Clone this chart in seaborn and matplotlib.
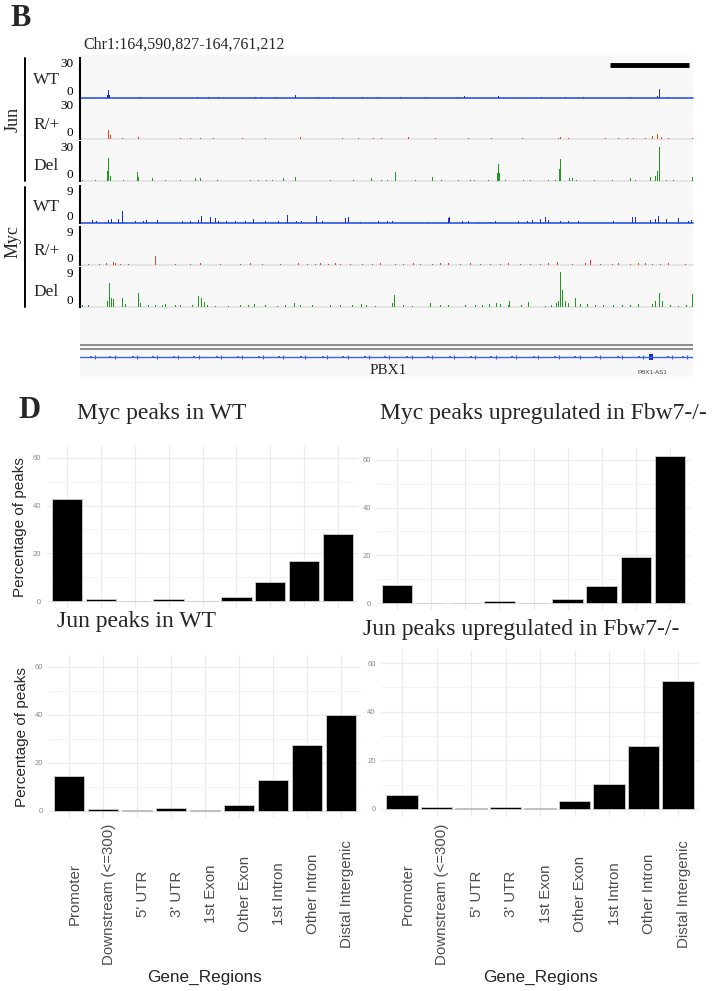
import matplotlib
matplotlib.use("Agg")
import matplotlib.pyplot as plt
import matplotlib.transforms as mtransforms
import seaborn as sns
import pandas as pd
import numpy as np

# ---------------- panel B: browser tracks (coverage in ~278 bp bins) ----------------
REGION_START = 164590827
REGION_END = 164761212
N_BINS = 613
BIN_BP = (REGION_END - REGION_START) / N_BINS

jun_wt_bins = [27, 28, 29, 60, 117, 128, 138, 175, 181, 196, 215, 238, 253, 282, 297, 320, 345,
               377, 384, 418, 461, 485, 503, 550, 577, 579, 587]
jun_wt_h = [2.5, 6, 2, 1, 1, 1, 1, 1, 1, 1, 2, 1, 1, 1, 1, 1, 1,
            1, 1.5, 1.5, 1, 1, 1, 1, 1.5, 7, 1]

jun_rp_bins = [28, 30, 42, 58, 100, 110, 120, 133, 162, 185, 220, 262, 278, 293, 301, 328, 355,
               388, 411, 442, 478, 480, 488, 525, 538, 547, 553, 565, 572, 577, 581, 588, 612]
jun_rp_h = [7, 3, 1, 1.5, 1, 1, 1, 1, 1, 1, 1.5, 1, 1, 1, 1, 1.5, 1,
            1, 1, 1, 1, 1.5, 1, 1, 1, 1, 1, 1, 2.5, 4, 1.5, 1, 1]

jun_del_bins = [2, 15, 27, 28, 30, 43, 57, 58, 72, 85, 100, 115, 120, 137, 170, 178, 186, 192, 203,
                215, 250, 273, 291, 301, 307, 315, 335, 352, 361, 378, 390, 394, 408, 417, 418,
                419, 425, 443, 450, 468, 475, 479, 480, 489, 492, 496, 514, 532, 550, 555, 570,
                575, 577, 579, 586, 593, 612]
jun_del_h = [1, 1, 8, 18, 4, 1, 7, 3, 2, 1, 1, 2, 2.5, 1, 1, 1, 1, 1, 2,
             3, 1, 1, 2, 1, 1, 7, 1, 3, 1, 1, 1, 1, 1, 6, 13,
             6, 1, 1, 1, 1, 1, 9, 17, 2, 2, 1, 1, 1, 2.5, 1, 3,
             4, 8, 26, 1, 1, 3]

myc_wt_bins = [12, 16, 28, 31, 38, 42, 55, 63, 66, 77, 102, 110, 118, 121, 130, 135, 138, 146, 155,
               165, 173, 185, 198, 207, 216, 221, 236, 242, 265, 268, 280, 298, 307, 312, 348, 368,
               369, 382, 388, 398, 410, 415, 438, 447, 452, 460, 465, 468, 480, 488, 498, 533, 552,
               555, 570, 575, 578, 586, 598, 608, 611]
myc_wt_h = [0.8, 0.5, 0.8, 1.0, 1.0, 2.8, 0.5, 0.5, 0.8, 0.8, 0.5, 0.5, 0.8, 1.7, 1.5, 1.2, 0.6, 0.5, 0.5,
            0.5, 0.9, 0.5, 0.5, 2.0, 0.5, 0.6, 1.8, 0.6, 1.1, 1.4, 0.3, 0.5, 0.6, 0.4, 0.3, 1.2,
            1.5, 0.5, 0.4, 0.3, 0.3, 0.4, 0.5, 0.5, 0.8, 0.9, 1.5, 0.7, 0.6, 0.6, 0.4, 0.6, 1.5,
            1.5, 0.7, 1.0, 1.6, 1.0, 1.1, 0.5, 0.8]

myc_rp_bins = [8, 19, 26, 33, 35, 40, 48, 75, 95, 110, 120, 140, 160, 170, 182, 200, 218, 227, 235,
               240, 248, 255, 260, 270, 282, 292, 300, 315, 323, 333, 340, 352, 360, 368, 380, 390,
               400, 410, 420, 428, 440, 450, 460, 468, 477, 492, 505, 510, 520, 532, 538, 550, 558,
               565, 572, 580, 588, 605]
myc_rp_h = [0.3, 0.3, 0.5, 0.6, 0.5, 0.3, 0.3, 2.1, 0.3, 0.3, 0.4, 0.3, 0.3, 0.4, 0.3, 0.3, 0.4, 0.3, 0.3,
            0.5, 0.3, 0.4, 0.3, 0.3, 0.3, 0.3, 0.4, 0.3, 0.3, 0.5, 0.3, 0.3, 0.4, 0.4, 0.3, 0.4,
            0.3, 0.3, 0.3, 0.4, 0.3, 0.3, 0.3, 0.4, 0.7, 0.3, 0.5, 1.2, 0.3, 0.3, 0.4, 0.3, 0.5,
            0.4, 0.3, 0.3, 0.4, 0.3]

myc_del_bins = [2, 8, 27, 29, 31, 33, 42, 45, 58, 60, 68, 75, 82, 85, 95, 100, 112, 118, 121, 124,
                127, 135, 148, 160, 168, 174, 185, 197, 205, 214, 220, 232, 250, 260, 272, 281, 286,
                295, 312, 314, 323, 332, 350, 360, 368, 385, 395, 402, 409, 416, 420, 428, 429, 441,
                448, 465, 471, 476, 478, 480, 482, 485, 488, 495, 500, 507, 515, 523, 533, 542, 550,
                558, 572, 575, 579, 582, 590, 598, 606, 612]
myc_del_h = [0.4, 0.4, 1.5, 5.6, 2.0, 1.8, 2.0, 0.6, 3.2, 1.0, 0.5, 0.4, 0.5, 0.7, 0.5, 0.4, 0.5, 2.5, 2.0, 1.2,
             0.5, 0.3, 0.3, 0.5, 0.5, 0.8, 0.4, 0.3, 0.5, 0.9, 0.4, 0.5, 0.4, 0.4, 0.5, 0.6, 0.4,
             0.3, 1.0, 2.7, 0.4, 0.3, 1.0, 0.4, 0.5, 0.4, 0.5, 0.5, 0.6, 1.0, 0.8, 0.4, 1.3, 0.5,
             1.2, 0.3, 0.5, 1.0, 1.5, 8.0, 4.0, 1.5, 1.0, 2.0, 0.8, 0.6, 0.4, 0.5, 0.5, 0.4, 0.5,
             0.6, 0.8, 1.3, 3.2, 1.3, 0.5, 0.3, 0.4, 3.0]

pbx1_arrow_bins = [10, 30, 52, 72, 93, 114, 136, 157, 178, 199, 220, 242, 263, 284, 304, 327, 348,
                   369, 390, 411, 432, 453, 474, 495, 516, 537, 558, 587, 602]
pbx1_exon_bins = [568, 572]
scale_bar_bins = [529, 608]

# ---------------- panel D: peak annotation ----------------
regions = ["Promoter", "Downstream (<=300)", "5' UTR", "3' UTR", "1st Exon",
           "Other Exon", "1st Intron", "Other Intron", "Distal Intergenic"]
myc_wt_pct = [42.8, 0.8, 0.2, 1.0, 0.2, 1.6, 7.8, 16.6, 28.0]
myc_up_pct = [7.5, 0.2, 0.2, 0.8, 0.2, 1.8, 7.3, 19.2, 61.6]
jun_wt_pct = [14.5, 0.8, 0.2, 1.4, 0.2, 2.4, 12.7, 27.5, 40.2]
jun_up_pct = [5.8, 0.7, 0.2, 0.7, 0.2, 3.4, 10.3, 25.9, 52.7]

SERIF = "Liberation Serif"
SANS = "Liberation Sans"
BLUE = "#1a2fc8"
BLUE_LINE = "#3a63e6"
RED = "#f0401e"
GREEN = "#1f9a1f"

sns.set_style("white")
plt.rcParams["font.family"] = [SANS, "DejaVu Sans"]

W, H = 715, 991
fig = plt.figure(figsize=(W / 100, H / 100), dpi=100)


def px_axes(x0, y0, x1, y1, **kw):
    return fig.add_axes([x0 / W, 1 - y1 / H, (x1 - x0) / W, (y1 - y0) / H], **kw)


def px_text(x, y, s, **kw):
    return fig.text(x / W, 1 - y / H, s, **kw)


def bin_to_bp(bins):
    return REGION_START + (np.asarray(bins) + 0.5) * BIN_BP


# browser background
bg = px_axes(80, 55, 693, 377)
bg.set_facecolor("#f8f8f8")
bg.set_xticks([])
bg.set_yticks([])
for s in bg.spines.values():
    s.set_visible(False)

px_text(10, 19, "B", fontsize=22, fontweight="bold", family=SERIF, va="center")
px_text(83, 45, "Chr1:164,590,827-164,761,212", fontsize=11.5, family=SERIF, va="center")

tracks = [
    ("WT", jun_wt_bins, jun_wt_h, 30, BLUE, BLUE_LINE, 58, 98, 80),
    ("R/+", jun_rp_bins, jun_rp_h, 30, RED, "#e2e2e2", 100, 139, 125),
    ("Del", jun_del_bins, jun_del_h, 30, GREEN, "#e2e2e2", 142, 181, 166),
    ("WT", myc_wt_bins, myc_wt_h, 9, BLUE, BLUE_LINE, 186, 223, 207),
    ("R/+", myc_rp_bins, myc_rp_h, 9, RED, "#e2e2e2", 227, 265, 251),
    ("Del", myc_del_bins, myc_del_h, 9, GREEN, "#e2e2e2", 268, 307, 292),
]

track_axes = []
for name, bins, hts, vmax, col, base_col, top, bot, label_y in tracks:
    ax = px_axes(80, top, 693, bot)
    ax.set_facecolor("none")
    ax.bar(bin_to_bp(bins), hts, width=BIN_BP * 1.8, color=col, linewidth=0)
    ax.axhline(0, color=base_col, lw=1.3, clip_on=False, zorder=0)
    ax.set_xlim(REGION_START, REGION_END)
    ax.set_ylim(0, vmax)
    ax.set_xticks([])
    ax.set_yticks([0, vmax])
    ax.set_yticklabels(["0", str(vmax)], family=SERIF, fontsize=9.5)
    labs = ax.get_yticklabels()
    labs[0].set_va("bottom")
    labs[1].set_va("top")
    ax.tick_params(axis="y", direction="out", length=4, width=1.4, pad=1, colors="black")
    for k in ["top", "right", "bottom"]:
        ax.spines[k].set_visible(False)
    ax.spines["left"].set_linewidth(1.5)
    ax.spines["left"].set_color("black")
    px_text(33, label_y, name, fontsize=12.5, family=SERIF, va="center")
    track_axes.append(ax)

# scale bar on the first track
track_axes[0].plot(bin_to_bp(scale_bar_bins), [24.8, 24.8], color="black", lw=3.5,
                   solid_capstyle="butt", clip_on=False)

# group labels and brackets
for label, y0, y1, yc in [("Jun", 58, 181, 119), ("Myc", 187, 307, 242)]:
    fig.add_artist(plt.Line2D([25 / W, 25 / W], [1 - y0 / H, 1 - y1 / H], color="black", lw=1.4))
    px_text(13, yc, label, fontsize=13, family=SERIF, rotation=90, ha="center", va="center")

# gene track
gax = px_axes(80, 340, 693, 377)
gax.set_facecolor("none")
gax.set_xlim(REGION_START, REGION_END)
gax.set_ylim(377, 340)
gax.axis("off")
gax.axhline(345, color="#8c8c8c", lw=1.4)
gax.axhline(348.5, color="#8c8c8c", lw=1.4)
gax.axhline(357, color=BLUE_LINE, lw=1.0)
gax.plot(bin_to_bp(pbx1_arrow_bins), [357] * len(pbx1_arrow_bins), ls="none", marker="s",
         ms=1.8, color=BLUE_LINE, mew=0)
gax.plot(bin_to_bp(pbx1_arrow_bins) + 4 * BIN_BP, [357] * len(pbx1_arrow_bins), ls="none",
         marker="|", ms=2.5, mew=0.8, color=BLUE_LINE)
ex = bin_to_bp(pbx1_exon_bins)
gax.fill_between(ex, 354, 360, color=BLUE, lw=0)
px_text(370, 370, "PBX1", fontsize=11, family=SERIF, va="center")
px_text(638, 372, "PBX1-AS1", fontsize=4.5, family=SANS, color="#444444", va="center")

# ---------------- panel D ----------------
px_text(18, 410, "D", fontsize=22, fontweight="bold", family=SERIF, va="center")

panels = [
    ("Myc peaks in WT", myc_wt_pct, (46.7, 446, 358.3, 608.4), (77, 413), False, True),
    ("Myc peaks upregulated in Fbw7-/-", myc_up_pct, (376.5, 448, 690.5, 610.4), (380, 414), False, False),
    ("Jun peaks in WT", jun_wt_pct, (48.6, 655, 361.4, 818.4), (57, 621), True, True),
    ("Jun peaks upregulated in Fbw7-/-", jun_up_pct, (381.3, 651, 698.7, 816.5), (363, 630), True, False),
]

for title, vals, box, tpos, show_x, show_ylab in panels:
    ax = px_axes(*box)
    df = pd.DataFrame({"Gene_Regions": regions, "pct": vals})
    ax.set_axisbelow(True)
    sns.barplot(data=df, x="Gene_Regions", y="pct", order=regions, color="black",
                width=0.9, edgecolor="#cfcfcf", linewidth=0.6, saturation=1, ax=ax)
    ax.set_xlim(-0.6, 8.6)
    ax.set_ylim(-3.1, 65)
    ax.set_yticks([0, 20, 40, 60])
    ax.set_yticks([10, 30, 50], minor=True)
    ax.grid(which="major", axis="both", color="#ebebeb", lw=0.9)
    ax.grid(which="minor", axis="y", color="#f3f3f3", lw=0.6)
    ax.tick_params(axis="both", which="both", length=0)
    ax.tick_params(axis="y", labelsize=5.5, labelcolor="#8a8a8a", pad=4)
    for s in ax.spines.values():
        s.set_visible(False)
    ax.set_xticks(range(len(regions)))
    ax.set_xticklabels([])
    ax.set_xlabel("")
    ax.set_ylabel("Percentage of peaks" if show_ylab else "", fontsize=11, labelpad=4)
    if show_x:
        tr = mtransforms.blended_transform_factory(ax.transData, fig.transFigure)
        for i, r in enumerate(regions):
            ax.text(i - 0.03, 1 - 894 / H, r, transform=tr, rotation=90, ha="left", va="center",
                    fontsize=10.8, color="#4d4d4d")
        cx = (box[0] + box[2]) / 2
        px_text(cx, 977, "Gene_Regions", fontsize=12.3, ha="center", va="center")
    px_text(tpos[0], tpos[1], title, fontsize=17, family=SERIF, va="center")

fig.savefig("out.png", dpi=100)
